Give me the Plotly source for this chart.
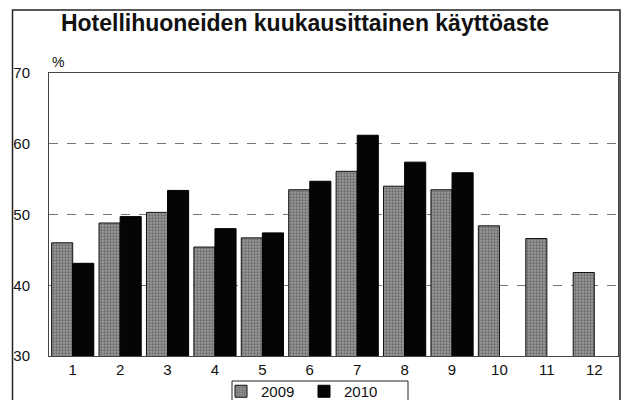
import plotly.graph_objects as go

months = ["1", "2", "3", "4", "5", "6", "7", "8", "9", "10", "11", "12"]
v2009 = [46.0, 48.8, 50.3, 45.4, 46.7, 53.5, 56.1, 54.0, 53.5, 48.4, 46.6, 41.8]
v2010 = [43.1, 49.7, 53.4, 48.0, 47.4, 54.7, 61.2, 57.4, 55.9, None, None, None]
ytick_vals = [30, 40, 50, 60, 70]

title_text = "Hotellihuoneiden kuukausittainen käyttöaste"

W, H = 621, 400
ml, mr, mt, mb = 49, 3, 73, 44
pw, ph = W - ml - mr, H - mt - mb

fig = go.Figure()
fig.add_trace(go.Bar(
    x=months, y=v2009, name="2009",
    marker=dict(color="#8e8e8e", line=dict(color="#111", width=1),
                pattern=dict(shape=".", fgcolor="#3a3a3a", bgcolor="#9a9a9a", size=3, solidity=0.45)),
))
fig.add_trace(go.Bar(
    x=months, y=v2010, name="2010",
    marker=dict(color="#050505", line=dict(color="#000", width=1)),
))

def px_x(p):
    return (p - ml) / pw

def px_y(p):
    return (H - mb - p) / ph

fig.update_layout(
    width=W, height=H,
    margin=dict(l=ml, r=mr, t=mt, b=mb, autoexpand=False),
    paper_bgcolor="white", plot_bgcolor="white",
    font=dict(family="Liberation Sans, Arial, sans-serif", size=15, color="#111"),
    barmode="group", bargap=0.11, bargroupgap=0,
    showlegend=True,
    legend=dict(orientation="h", x=px_x(221), xanchor="left", y=px_y(375), yanchor="top",
                bgcolor="rgba(0,0,0,0)", borderwidth=0, font=dict(size=15),
                itemwidth=30, entrywidth=38, tracegroupgap=0),
    xaxis=dict(showline=True, linecolor="#444", linewidth=1, mirror=True,
               ticks="", tickfont=dict(size=15), showgrid=False),
    yaxis=dict(range=[30, 70], tickvals=ytick_vals, showline=True, linecolor="#444",
               linewidth=1, mirror=True, ticks="", showgrid=True,
               gridcolor="#777", griddash="dash", gridwidth=1,
               tickfont=dict(size=15), ticklabelstandoff=15),
    title=dict(text="<b>" + title_text + "</b>", x=305 / W,
               xanchor="center", y=1 - 23 / H, yanchor="middle",
               font=dict(size=23, color="#111")),
)

fig.add_annotation(text="%", xref="paper", yref="paper", x=px_x(50), y=px_y(62),
                   xanchor="left", yanchor="middle", showarrow=False,
                   font=dict(size=14, color="#111"))

fig.add_shape(type="rect", xref="paper", yref="paper",
              x0=px_x(12.5), x1=px_x(620), y0=px_y(405), y1=px_y(10),
              line=dict(color="#222", width=1.5), fillcolor="rgba(0,0,0,0)", layer="below")
fig.add_shape(type="rect", xref="paper", yref="paper",
              x0=px_x(232), x1=px_x(408), y0=px_y(405), y1=px_y(381),
              line=dict(color="#222", width=1), fillcolor="rgba(0,0,0,0)", layer="below")

fig.write_html("out.html", config={"displayModeBar": False},
               post_script="document.body.style.margin='0';")
